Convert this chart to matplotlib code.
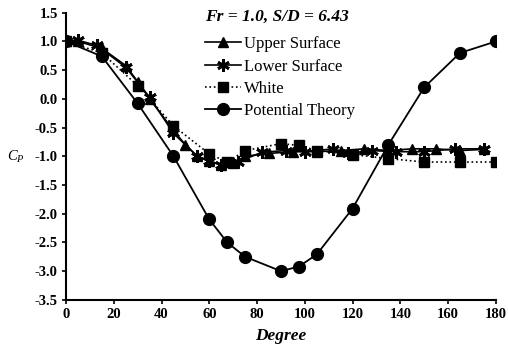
import matplotlib
matplotlib.use("Agg")
import matplotlib.pyplot as plt

# potential theory
pt_deg = [0, 15, 30, 45, 60, 67.5, 75, 90, 97.5, 105, 120, 135, 150, 165, 180]
pt_cp = [1.0, 0.74, -0.08, -1.0, -2.1, -2.5, -2.75, -3.0, -2.92, -2.71, -1.91, -0.8, 0.2, 0.8, 1.0]

# upper surface (triangles)
up_deg = [0, 5, 15, 25, 30, 35, 45, 50, 55, 60, 65, 70, 75, 85, 95, 105,
          115, 125, 135, 145, 155, 165, 175]
up_cp = [1.0, 1.0, 0.88, 0.58, 0.3, 0.0, -0.55, -0.8, -1.0, -1.08, -1.15, -1.12,
         -1.0, -0.95, -0.92, -0.92, -0.9, -0.87, -0.9, -0.87, -0.87, -0.9, -0.88]

# lower surface (stars)
lo_deg = [0, 5, 13, 25, 35, 45, 55, 60, 65, 72, 82, 92, 100, 112, 118, 128,
          138, 150, 163, 175]
lo_cp = [1.0, 1.02, 0.93, 0.55, 0.03, -0.6, -1.0, -1.08, -1.15, -1.1, -0.93,
         -0.9, -0.92, -0.87, -0.95, -0.9, -0.92, -0.92, -0.87, -0.87]

# White (squares)
wh_deg = [0, 15, 30, 45, 60, 67.5, 75, 90, 97.5, 105, 120, 135, 150, 165, 180]
wh_cp = [1.0, 0.8, 0.23, -0.47, -0.96, -1.1, -0.9, -0.78, -0.81, -0.9, -0.97,
         -1.04, -1.1, -1.1, -1.1]

plt.rcParams['font.family'] = 'Liberation Serif'
plt.rcParams['mathtext.fontset'] = 'custom'
plt.rcParams['mathtext.it'] = 'Liberation Serif:italic'
plt.rcParams['mathtext.rm'] = 'Liberation Serif'

fig = plt.figure(figsize=(5.08, 3.54), dpi=100)
ax = fig.add_axes([0.130, 0.153, 0.846, 0.811])

ax.plot(up_deg, up_cp, '-', color='black', lw=1.2, marker='^', ms=7.5,
        label='Upper Surface')
ax.plot(lo_deg, lo_cp, '-', color='black', lw=1.2, marker=(6, 2, 0), ms=9,
        mew=2, label='Lower Surface')
ax.plot(wh_deg, wh_cp, ':', color='black', lw=1.2, marker='s', ms=7,
        label='White')
ax.plot(pt_deg, pt_cp, '-', color='black', lw=1.3, marker='o', ms=8.5,
        label='Potential Theory')

ax.set_xlim(0, 180)
ax.set_ylim(-3.5, 1.5)
ax.set_xticks(range(0, 181, 20))
ax.set_yticks([1.5, 1.0, 0.5, 0.0, -0.5, -1.0, -1.5, -2.0, -2.5, -3.0, -3.5])
ax.set_yticklabels(['%.1f' % v for v in ax.get_yticks()])
for lab in ax.get_xticklabels() + ax.get_yticklabels():
    lab.set_fontweight('bold')
    lab.set_fontsize(10.5)
ax.tick_params(direction='out', length=3, width=1.2, pad=3)
ax.spines['top'].set_visible(False)
ax.spines['right'].set_visible(False)
ax.spines['left'].set_linewidth(1.5)
ax.spines['bottom'].set_linewidth(1.5)

ax.set_xlabel('Degree', fontsize=12.5, fontweight='bold', style='italic',
              labelpad=5)
fig.text(0.014, 0.558, r'$C_P$', fontsize=10.5, ha='left', va='center')

fig.text(0.545, 0.952, 'Fr = 1.0, S/D = 6.43', fontsize=12.5,
         fontweight='bold', style='italic', ha='center', va='center')

ax.legend(loc='upper left', bbox_to_anchor=(0.315, 0.93), frameon=False,
          fontsize=12, handlelength=2.2, handletextpad=0.15,
          labelspacing=0.38, borderpad=0.2, borderaxespad=0)

fig.savefig('out.png', dpi=100)
